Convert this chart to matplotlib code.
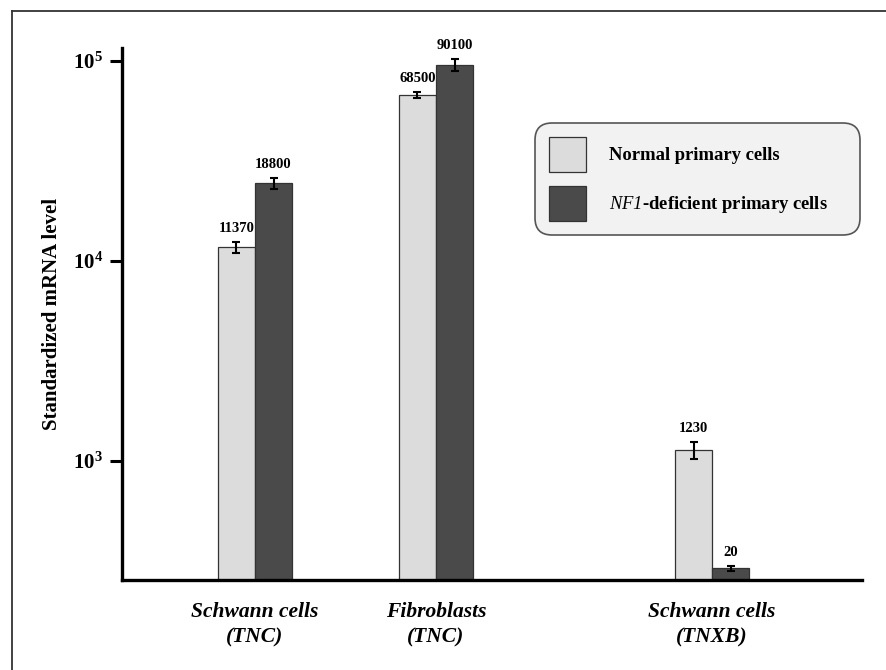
import numpy as np
import matplotlib
matplotlib.use("Agg")
import matplotlib.pyplot as plt
from matplotlib.patches import Patch
from matplotlib.lines import Line2D

plt.rcParams['font.family'] = ['Liberation Serif', 'DejaVu Serif']
plt.rcParams['mathtext.fontset'] = 'custom'
plt.rcParams['mathtext.it'] = 'Liberation Serif:italic'
plt.rcParams['mathtext.rm'] = 'Liberation Serif:italic'
plt.rcParams['mathtext.bf'] = 'Liberation Serif:bold'

# groups and their positions along x
groups = ['Schwann cells\n(TNC)', 'Fibroblasts\n(TNC)', 'Schwann cells\n(TNXB)']
group_pos = [1.0, 2.0, 3.525]

# bar heights as drawn (log scale) and their error bars
normal_vals = [11700, 67600, 1135]
normal_err = [700, 2400, 110]
nf1_vals = [24450, 95900, 291]
nf1_err = [1550, 6500, 8]

# printed value labels
normal_labels = ['11370', '68500', '1230']
nf1_labels = ['18800', '90100', '20']

c_normal = '#dcdcdc'
c_nf1 = '#4a4a4a'
width = 0.205

fig = plt.figure(figsize=(8.87, 6.70), dpi=100)
ax = fig.add_axes([0.1375, 0.1343, 0.8345, 0.7937])

x = np.array(group_pos)
ax.bar(x - width / 2, normal_vals, width, color=c_normal, edgecolor='#333333', linewidth=0.9, zorder=2)
ax.bar(x + width / 2, nf1_vals, width, color=c_nf1, edgecolor='#333333', linewidth=0.9, zorder=2)
ax.errorbar(x - width / 2, normal_vals, yerr=normal_err, fmt='none', ecolor='black',
            elinewidth=1.5, capsize=3, capthick=1.5, zorder=3)
ax.errorbar(x + width / 2, nf1_vals, yerr=nf1_err, fmt='none', ecolor='black',
            elinewidth=1.5, capsize=3, capthick=1.5, zorder=3)

for xi, v, e, t in zip(x - width / 2, normal_vals, normal_err, normal_labels):
    ax.annotate(t, (xi, v + e), xytext=(0, 5), textcoords='offset points',
                ha='center', va='bottom', fontsize=10.5, fontweight='bold')
for xi, v, e, t in zip(x + width / 2, nf1_vals, nf1_err, nf1_labels):
    ax.annotate(t, (xi, v + e), xytext=(0, 5), textcoords='offset points',
                ha='center', va='bottom', fontsize=10.5, fontweight='bold')

ax.set_yscale('log')
ax.set_ylim(254, 116000)
ax.set_xlim(0.265, 4.354)
ax.set_yticks([1e3, 1e4, 1e5])
ax.minorticks_off()
ax.set_xticks(x)
ax.set_xticklabels(groups, fontsize=15.5, fontweight='bold', fontstyle='italic', linespacing=1.35)
ax.tick_params(axis='x', length=0, pad=16)
ax.tick_params(axis='y', length=8.5, width=2.2, pad=5, labelsize=15)
for lab in ax.get_yticklabels():
    lab.set_fontweight('bold')

ax.set_ylabel('Standardized mRNA level', fontsize=15, fontweight='bold', labelpad=8)

for s in ['top', 'right']:
    ax.spines[s].set_visible(False)
for s in ['left', 'bottom']:
    ax.spines[s].set_linewidth(2.4)

handles = [Patch(facecolor=c_normal, edgecolor='#333333', linewidth=0.9),
           Patch(facecolor=c_nf1, edgecolor='#333333', linewidth=0.9)]
leg = ax.legend(handles, ['Normal primary cells', r'$NF1$-deficient primary cells'],
                loc='upper left', bbox_to_anchor=(0.558, 0.645, 0.439, 0.214), mode='expand',
                borderaxespad=0, prop={'weight': 'bold', 'size': 13.4},
                handlelength=2.0, handleheight=2.5, labelspacing=0.75,
                handletextpad=1.2, borderpad=0.75, fancybox=True,
                facecolor='#f2f2f2', edgecolor='#555555', framealpha=1)
leg.get_frame().set_linewidth(1.2)
leg.get_frame().set_boxstyle('round,pad=0,rounding_size=0.9')

# figure frame (top and left edges)
fig.add_artist(Line2D([12 / 887, 1.0], [1 - 11 / 670, 1 - 11 / 670], color='#333333', lw=1.3))
fig.add_artist(Line2D([12 / 887, 12 / 887], [0.0, 1 - 11 / 670], color='#333333', lw=1.3))

fig.savefig('out.png', dpi=100)
